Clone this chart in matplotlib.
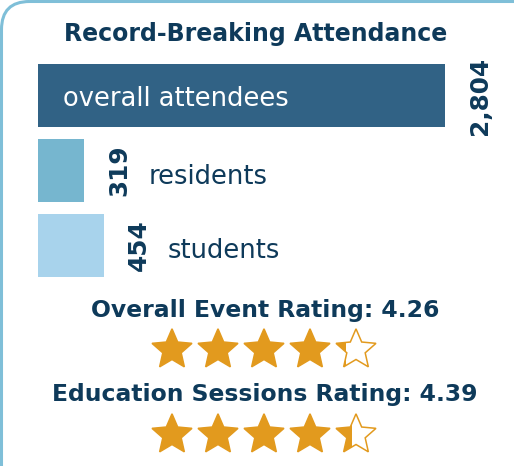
import numpy as np
import matplotlib
matplotlib.use("Agg")
import matplotlib.pyplot as plt
from matplotlib.patches import FancyBboxPatch, Polygon, Rectangle

# ---- data ----
categories = ["overall attendees", "residents", "students"]
attendance = [2804, 319, 454]
rating_labels = ["Overall Event Rating", "Education Sessions Rating"]
ratings = [4.26, 4.39]
title = "Record-Breaking Attendance"

# ---- style ----
W, H = 514, 466
DPI = 100
navy = "#0e3a5a"
bar_colors = ["#316285", "#76b6cf", "#a8d3ec"]
star_color = "#e29a1e"
border_color = "#7fbfd8"
plt.rcParams["font.family"] = ["DejaVu Sans"]

fig = plt.figure(figsize=(W / DPI, H / DPI), dpi=DPI)


def px_axes(left, top, width, height, **kw):
    return fig.add_axes([left / W, 1 - (top + height) / H, width / W, height / H], **kw)


# overlay axes in pixel coordinates
ax0 = px_axes(0, 0, W, H)
ax0.set_xlim(0, W)
ax0.set_ylim(H, 0)
ax0.axis("off")
border = FancyBboxPatch((1.5, 1.5), 600, 600,
                        boxstyle="round,pad=0,rounding_size=28",
                        lw=2.2, ec=border_color, fc="none")
ax0.add_patch(border)

ax0.text(256, 34, title, ha="center", va="center", fontsize=17,
         fontweight="bold", color=navy)

# ---- bars ----
bar_left, bar_full = 38, 407  # px for largest value
axw = W - bar_left
ax1 = px_axes(bar_left, 58, axw, 225)
ax1.set_xlim(0, max(attendance) * axw / bar_full)
ax1.set_ylim(len(categories) - 0.5, -0.5)
ax1.axis("off")
ypos = np.arange(len(categories))
ax1.barh(ypos, attendance, height=0.84, color=bar_colors, left=0)

for i, (cat, val) in enumerate(zip(categories, attendance)):
    ax1.annotate(f"{val:,}", xy=(val, i), xytext=(35, 0), textcoords="offset pixels",
                 rotation=90, ha="center", va="center", fontsize=17.8,
                 fontweight="bold", color=navy)
    if i == 0:
        ax1.annotate(cat, xy=(0, i), xytext=(25, -4), textcoords="offset pixels",
                     ha="left", va="center", fontsize=18.5, color="white")
    else:
        ax1.annotate(cat, xy=(val, i), xytext=(64, -6), textcoords="offset pixels",
                     ha="left", va="center", fontsize=18.5, color=navy)

# ---- ratings ----
text_y = [311, 395]
star_y = [348, 433]
R = 21 / 46
r = R * 0.46
ang_out = np.deg2rad(90 + 72 * np.arange(5))
ang_in = ang_out + np.deg2rad(36)


def star_pts(cx, cy):
    pts = []
    for a, b in zip(ang_out, ang_in):
        pts.append((cx + R * np.cos(a), cy + R * np.sin(a)))
        pts.append((cx + r * np.cos(b), cy + r * np.sin(b)))
    return np.array(pts)


half_w = R * np.sin(np.deg2rad(72))
for lab, val, ty, sy in zip(rating_labels, ratings, text_y, star_y):
    ax0.text(265, ty, f"{lab}: {val:.2f}", ha="center", va="center",
             fontsize=16.9, fontweight="bold", color=navy)
    axs = px_axes(149, sy - 23, 230, 46)
    axs.set_xlim(0, 5)
    axs.set_ylim(-0.5, 0.5)
    axs.axis("off")
    for i in range(5):
        frac = float(np.clip(val - i, 0, 1))
        cx, cy = i + 0.5, -0.04
        pts = star_pts(cx, cy)
        axs.add_patch(Polygon(pts, closed=True, fc="white", ec="none"))
        fillp = Polygon(pts, closed=True, fc=star_color, ec="none")
        axs.add_patch(fillp)
        clip = Rectangle((cx - half_w, -1), 2 * half_w * frac, 2,
                         transform=axs.transData)
        fillp.set_clip_path(clip)
        axs.add_patch(Polygon(pts, closed=True, fc="none", ec=star_color, lw=1.1))

fig.savefig("out.png", dpi=DPI)
